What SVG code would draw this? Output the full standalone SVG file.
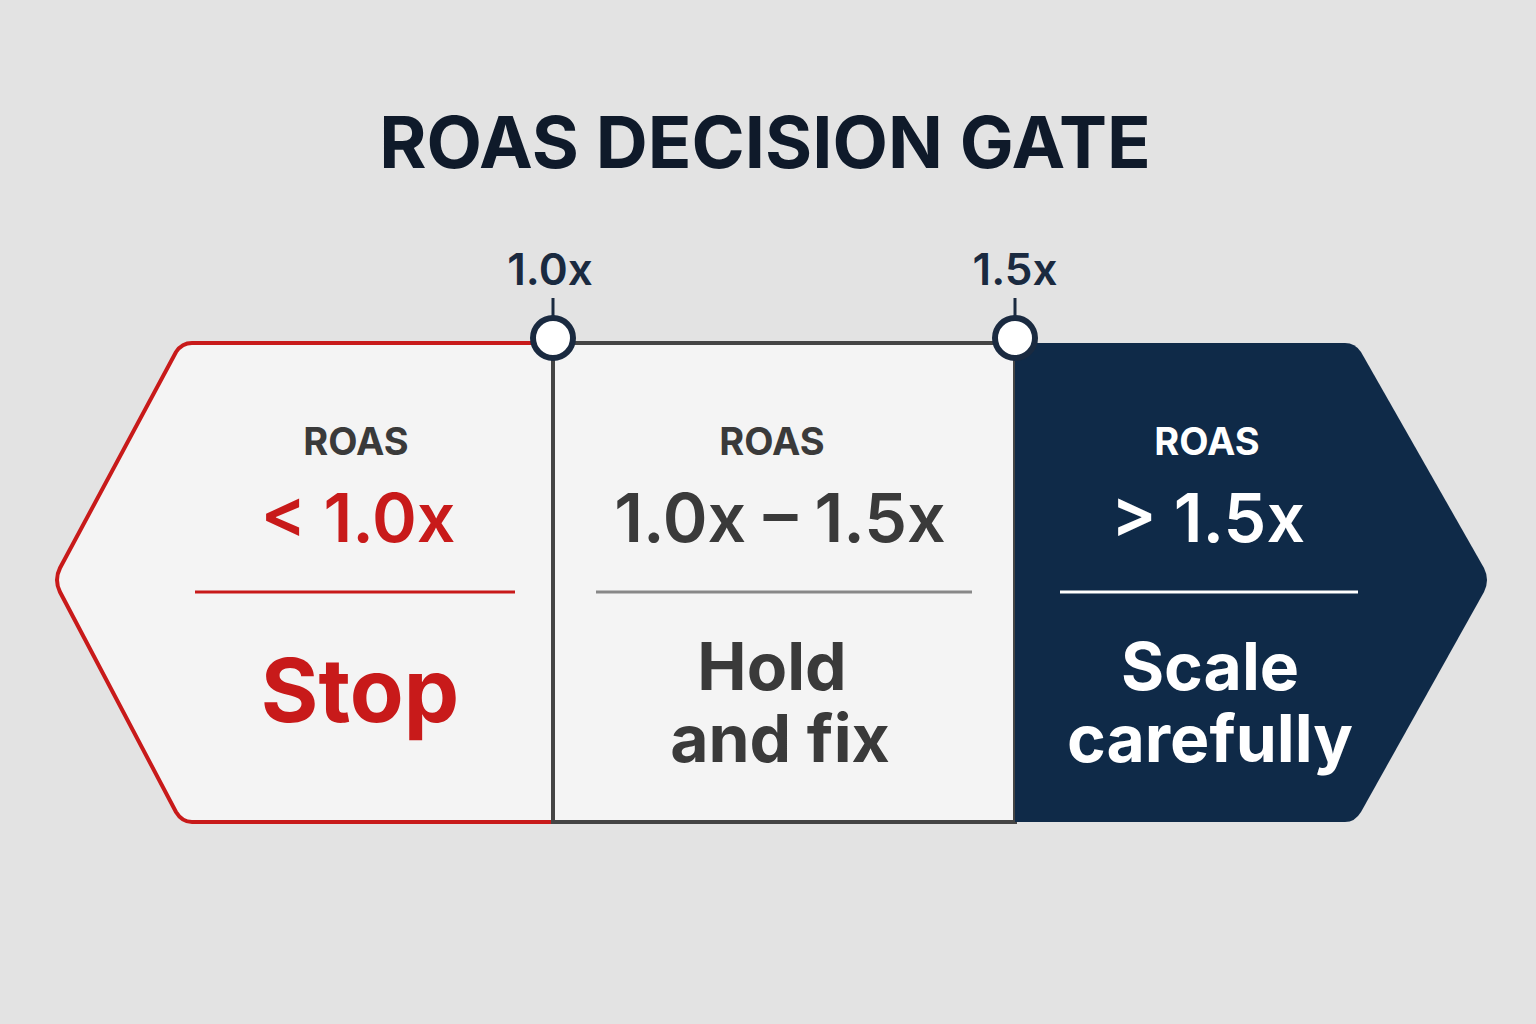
<svg xmlns="http://www.w3.org/2000/svg" width="1536" height="1024" viewBox="0 0 1536 1024">
<style>
text{font-family:Inter,"Liberation Sans",sans-serif;text-anchor:middle;font-weight:700}
.lbl{font-size:38px}
.val{font-size:68px;font-weight:600}
.act{font-size:66px}
.tk{font-size:44px;fill:#1a2a40;font-weight:600}
</style>
<rect width="1536" height="1024" fill="#e3e3e3"/>
<text x="765" y="168" font-size="72" fill="#0f1a2a">ROAS DECISION GATE</text>
<g id="stop">
<path d="M553,343 L192,343 Q182,343 176,352 L60,568 Q54,580 60,592 L176,812 Q182,822 192,822 L553,822 Z" fill="#f4f4f4" stroke="#c81a1a" stroke-width="4"/>
<text class="lbl" x="356" y="455" fill="#3a3a3a">ROAS</text>
<text class="val" x="358" y="542" fill="#c81a1a">&lt; 1.0x</text>
<line x1="195" y1="592" x2="515" y2="592" stroke="#c81a1a" stroke-width="3"/>
<text x="360" y="722" fill="#c81a1a" font-size="88">Stop</text>
</g>
<g id="hold">
<rect x="553" y="343" width="462" height="479" fill="#f4f4f4" stroke="#444" stroke-width="4"/>
<text class="lbl" x="772" y="455" fill="#3a3a3a">ROAS</text>
<text class="val" x="780" y="542" fill="#3a3a3a">1.0x – 1.5x</text>
<line x1="596" y1="592" x2="972" y2="592" stroke="#888" stroke-width="3"/>
<text class="act" x="772" y="690" fill="#3a3a3a">Hold</text>
<text class="act" x="780" y="762" fill="#3a3a3a">and fix</text>
</g>
<g id="scale">
<path d="M1015,343 L1345,343 Q1355,343 1361,352 L1484,568 Q1490,580 1484,592 L1361,812 Q1355,822 1345,822 L1015,822 Z" fill="#0f2a48"/>
<text class="lbl" x="1207" y="455" fill="#fff">ROAS</text>
<text class="val" x="1208" y="542" fill="#fff">&gt; 1.5x</text>
<line x1="1060" y1="592" x2="1358" y2="592" stroke="#fff" stroke-width="3"/>
<text class="act" x="1210" y="690" fill="#fff">Scale</text>
<text class="act" x="1210" y="762" fill="#fff">carefully</text>
</g>
<g id="connectors">
<line x1="553" y1="298" x2="553" y2="318" stroke="#1a2a40" stroke-width="3"/>
<line x1="1015" y1="298" x2="1015" y2="318" stroke="#1a2a40" stroke-width="3"/>
<circle cx="553" cy="338" r="20" fill="#fff" stroke="#1a2a40" stroke-width="6"/>
<circle cx="1015" cy="338" r="20" fill="#fff" stroke="#1a2a40" stroke-width="6"/>
<text class="tk" x="550" y="285">1.0x</text>
<text class="tk" x="1015" y="285">1.5x</text>
</g>
</svg>
